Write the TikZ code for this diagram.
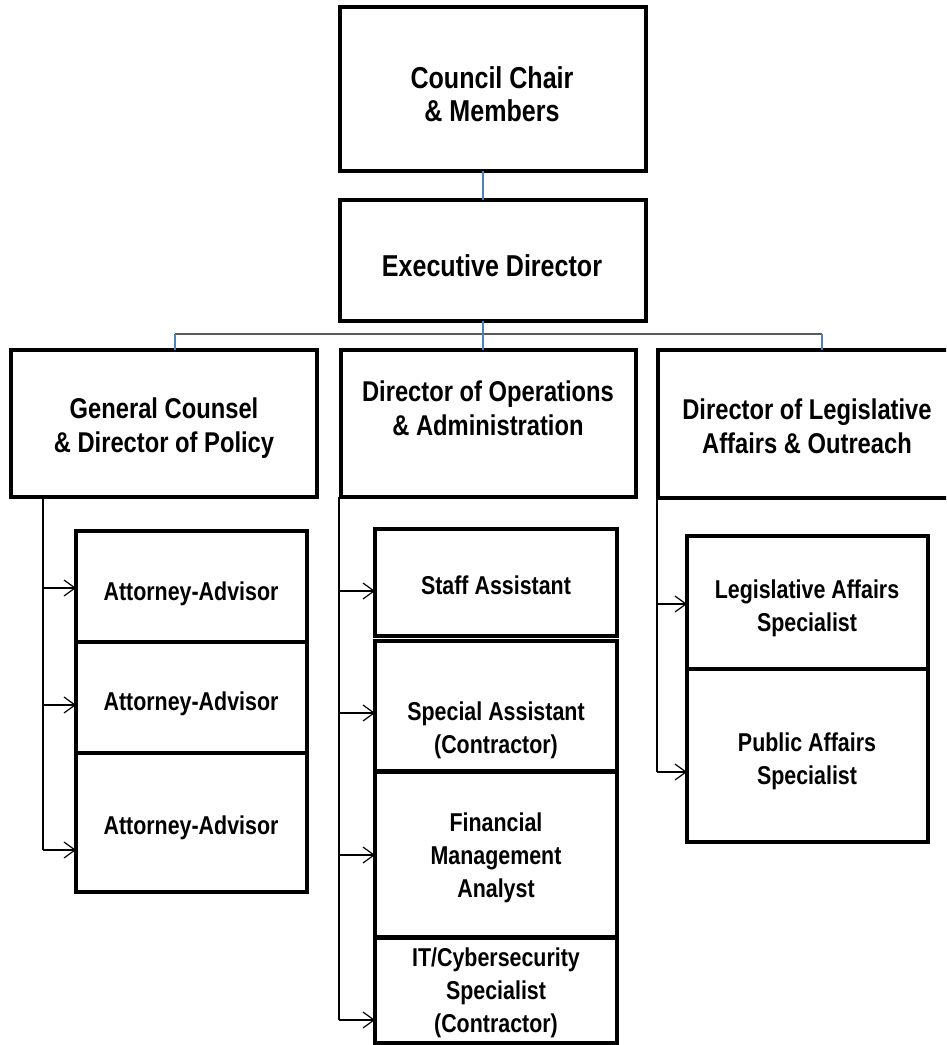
\documentclass[tikz,border=0pt]{standalone}
\usepackage{fontspec}
\setmainfont{Liberation Sans}[FakeStretch=0.83]
\usetikzlibrary{arrows.meta,calc}
\definecolor{lineblue}{HTML}{4F81BD}
\begin{document}
\begin{tikzpicture}[x=1pt,y=-1pt,
  orgbox/.style={draw=black, line width=3.8pt, inner sep=0pt, outer sep=0pt, anchor=north west},
  toptxt/.style={font=\fontsize{30.2}{33}\selectfont\bfseries, align=center, inner sep=0pt},
  bigtxt/.style={font=\fontsize{28.6}{34}\selectfont\bfseries, align=center, inner sep=0pt},
  smalltxt/.style={font=\fontsize{25.8}{33}\selectfont\bfseries, align=center, inner sep=0pt},
  blueline/.style={draw=lineblue, line width=1.1pt},
  busline/.style={draw=black!65, line width=1.3pt},
  treeline/.style={draw=black, line width=1.2pt},
  feed/.style={treeline, -{Straight Barb[length=11pt,width=16pt]}}]
\useasboundingbox (0,0) rectangle (946,1045);
\clip (0,0) rectangle (946,1045);

% boxes
\node[orgbox, minimum width=306pt, minimum height=164pt] (council) at (340,7) {};
\node[orgbox, minimum width=306pt, minimum height=121pt] (exec) at (340,200) {};
\node[orgbox, minimum width=306pt, minimum height=147pt] (gc) at (11,350) {};
\node[orgbox, minimum width=295pt, minimum height=147pt] (ops) at (341,350) {};
\node[orgbox, minimum width=300pt, minimum height=148pt] (leg) at (658,350) {};
\node[orgbox, minimum width=231pt, minimum height=111pt] (att1) at (76,531) {};
\node[orgbox, minimum width=231pt, minimum height=111pt] (att2) at (76,642) {};
\node[orgbox, minimum width=231pt, minimum height=139pt] (att3) at (76,753) {};
\node[orgbox, minimum width=242pt, minimum height=107pt] (staff) at (375,529) {};
\node[orgbox, minimum width=242pt, minimum height=130pt] (special) at (375,641) {};
\node[orgbox, minimum width=242pt, minimum height=165pt] (fin) at (375,772) {};
\node[orgbox, minimum width=242pt, minimum height=105pt] (itsec) at (375,938) {};
\node[orgbox, minimum width=241pt, minimum height=133pt] (legspec) at (687,536) {};
\node[orgbox, minimum width=241pt, minimum height=173pt] (pubspec) at (687,669) {};

% texts
\node[toptxt] (tcouncil) at (492,94) {Council Chair\\\& Members};
\node[toptxt] (texec) at (492,266) {Executive Director};
\node[bigtxt] (tgc) at (164,428) {General Counsel\\\& Director of Policy};
\node[bigtxt] (tops) at (488,408) {Director of Operations\\\& Administration};
\node[bigtxt] (tleg) at (807,426) {Director of Legislative\\Affairs \& Outreach};
\node[smalltxt] (tatt1) at (191,594) {Attorney-Advisor};
\node[smalltxt] (tatt2) at (191,704) {Attorney-Advisor};
\node[smalltxt] (tatt3) at (191,828) {Attorney-Advisor};
\node[smalltxt] (tstaff) at (496,585) {Staff Assistant};
\node[smalltxt] (tspecial) at (496,730) {Special Assistant\\(Contractor)};
\node[smalltxt] (tfin) at (496,858) {Financial\\Management\\Analyst};
\node[smalltxt] (tit) at (496,993) {IT/Cybersecurity\\Specialist\\(Contractor)};
\node[smalltxt] (tlegspec) at (807,608) {Legislative Affairs\\Specialist};
\node[smalltxt] (tpubspec) at (807,761) {Public Affairs\\Specialist};

% top connectors
\coordinate (trunk) at (483,334);
\coordinate (busL) at (175,334);
\coordinate (busR) at (822,334);
\draw[blueline] (trunk |- council.south) -- (trunk |- exec.north);
\draw[busline] (busL) -- (busR);
\draw[blueline] (trunk |- exec.south) -- (trunk |- ops.north);
\draw[blueline] (busL) -- (busL |- gc.north);
\draw[blueline] (busR) -- (busR |- leg.north);

% left tree
\coordinate (la) at (43,588);
\coordinate (lb) at (43,705);
\coordinate (lc) at (43,850);
\draw[treeline] (la |- gc.south) -- (lc);
\draw[feed] (la) -- (la -| att1.west);
\draw[feed] (lb) -- (lb -| att2.west);
\draw[feed] (lc) -- (lc -| att3.west);

% middle tree
\coordinate (ma) at (339,591);
\coordinate (mb) at (339,713);
\coordinate (mc) at (339,855);
\coordinate (md) at (339,1020);
\draw[treeline] (ma |- ops.south) -- (md);
\draw[feed] (ma) -- (ma -| staff.west);
\draw[feed] (mb) -- (mb -| special.west);
\draw[feed] (mc) -- (mc -| fin.west);
\draw[feed] (md) -- (md -| itsec.west);

% right tree
\coordinate (ra) at (657,604);
\coordinate (rb) at (657,772);
\draw[treeline] (ra |- leg.south) -- (rb);
\draw[feed] (ra) -- (ra -| legspec.west);
\draw[feed] (rb) -- (rb -| pubspec.west);
\end{tikzpicture}
\end{document}
